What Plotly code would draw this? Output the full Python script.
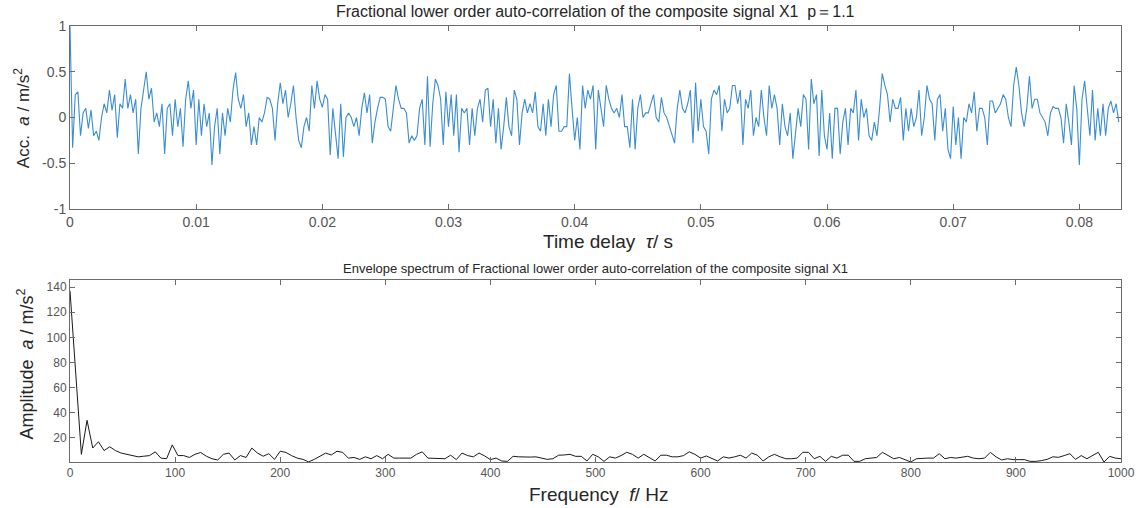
import numpy as np
import plotly.graph_objects as go
from plotly.subplots import make_subplots

# ---- auto-correlation of X1 (p = 1.1), sampled every 1/4800 s ----
fs_corr = 4800.0
acc_0 = [1.0, -0.33, 0.25, 0.28, -0.2, 0.05, 0.1, -0.12, 0.08, -0.2,
         -0.15, -0.25, 0.0, 0.15, 0.05, 0.3, 0.08, 0.25, -0.22, 0.15,
         0.1, 0.42, 0.1, 0.25, 0.05, 0.2, -0.4, 0.1, 0.3, 0.5,
         0.2, 0.32, -0.05, 0.05, -0.1, 0.15, -0.4, 0.1, 0.15, -0.2,
         0.2, -0.1, 0.1, -0.32, 0.2, 0.4, 0.1, 0.3]
acc_1 = [-0.3, 0.2, -0.2, 0.15, -0.1, 0.05, -0.52, -0.1, 0.1, -0.4,
         0.05, -0.2, 0.1, -0.05, 0.3, 0.49, 0.2, 0.1, 0.25, -0.1,
         0.05, -0.3, -0.1, -0.3, 0.0, -0.05, 0.05, 0.22, 0.2, 0.1,
         -0.25, 0.15, 0.38, 0.15, 0.3, 0.0, 0.15, 0.35, 0.0, -0.25,
         -0.33, -0.1, 0.0, -0.15, 0.35, 0.1, 0.4, 0.2]
acc_2 = [0.11, 0.25, 0.2, -0.41, 0.1, -0.2, -0.45, 0.15, -0.43, 0.0,
         0.05, 0.0, -0.1, 0.0, -0.2, 0.1, 0.27, 0.05, 0.25, -0.28,
         -0.05, 0.1, 0.22, 0.22, 0.2, -0.1, -0.15, 0.1, 0.35, 0.2,
         0.1, 0.1, 0.05, -0.28, -0.2, -0.25, -0.2, 0.1, 0.2, -0.3,
         0.45, -0.32, 0.15, 0.42, 0.35, 0.2, -0.3, 0.28]
acc_3 = [-0.1, 0.25, -0.2, 0.25, -0.38, 0.1, 0.05, 0.1, -0.3, 0.1,
         -0.2, 0.1, 0.2, -0.05, 0.3, 0.32, -0.1, 0.2, -0.28, 0.1,
         -0.35, -0.1, 0.22, -0.1, -0.2, 0.3, 0.2, -0.3, 0.05, 0.2,
         0.05, 0.15, 0.05, 0.28, -0.1, -0.15, 0.15, -0.2, 0.2, -0.1,
         0.25, 0.35, -0.15, -0.15, -0.1, -0.1, 0.48, 0.1]
acc_4 = [-0.25, 0.0, -0.35, 0.35, 0.1, 0.3, 0.2, 0.35, -0.35, 0.3,
         0.1, -0.1, 0.35, 0.2, 0.1, 0.05, 0.1, 0.0, 0.25, -0.1,
         -0.1, -0.33, 0.2, -0.35, 0.1, 0.25, 0.0, 0.05, 0.05, 0.15,
         0.25, 0.0, -0.05, 0.22, 0.05, 0.0, -0.1, -0.2, -0.28, 0.1,
         0.3, 0.1, 0.05, 0.15, 0.3, -0.28, 0.38, -0.15]
acc_5 = [0.2, -0.1, -0.15, -0.4, 0.2, 0.3, 0.25, 0.35, -0.15, 0.2,
         0.05, 0.1, 0.35, 0.35, 0.15, 0.3, -0.3, 0.2, 0.1, 0.3,
         -0.2, 0.0, -0.1, 0.3, 0.0, -0.2, 0.35, 0.1, 0.25, 0.1,
         -0.3, 0.15, -0.1, -0.2, 0.05, -0.45, -0.2, 0.1, -0.1, 0.25,
         0.2, -0.35, 0.42, 0.15, 0.25, -0.42, 0.3, -0.2]
acc_6 = [-0.35, 0.05, -0.45, 0.1, 0.1, -0.4, -0.05, 0.1, -0.3, 0.1,
         0.05, 0.3, -0.25, 0.2, 0.0, 0.1, -0.2, -0.25, -0.05, -0.2,
         0.1, 0.48, 0.35, 0.25, -0.05, 0.2, 0.1, 0.1, 0.22, -0.25,
         0.1, -0.15, 0.1, -0.1, 0.0, 0.3, -0.2, 0.0, 0.35, 0.2,
         0.15, -0.25, 0.2, 0.25, -0.15, 0.1, -0.35, -0.45]
acc_7 = [0.12, -0.3, 0.0, -0.45, 0.0, -0.05, 0.15, 0.05, 0.28, -0.15,
         0.1, 0.1, 0.0, -0.3, 0.18, 0.18, 0.05, 0.1, 0.15, 0.25,
         0.2, 0.0, -0.1, 0.35, 0.55, 0.35, 0.05, -0.1, 0.1, 0.45,
         0.1, 0.2, 0.2, 0.05, 0.0, -0.05, -0.2, 0.05, 0.12, 0.1,
         0.1, 0.0, -0.28, 0.15, -0.05, -0.3, 0.35, 0.1]
acc_8 = [-0.52, 0.2, 0.4, 0.1, -0.2, 0.3, -0.25, 0.1, -0.2, 0.15,
         -0.2, 0.1, 0.18, 0.05, 0.15, -0.05]

# ---- envelope spectrum of the auto-correlation, 0 - 1000 Hz ----
amp = [137, 75, 7, 34, 12, 17, 10, 13, 10, 8,
       7, 6.5, 5, 5.5, 6, 9, 4, 3.5, 14.5, 6,
       6, 4.5, 7, 8.5, 5.5, 3.5, 2.5, 7, 8, 2.5,
       6, 4.5, 12, 8, 5.5, 7.5, 3, 9.5, 8.5, 6,
       4, 3, 1, 3, 5.5, 8, 6.5, 9.5, 8.5, 4,
       4.5, 3, 5, 3.5, 6, 3.5, 7, 4, 4, 4,
       4, 7, 9, 4, 4, 3.5, 3.5, 6.3, 2.8, 8,
       6, 5, 8, 5.7, 2.8, 4, 1.7, 1.4, 5.4, 5,
       4.6, 4.8, 5, 4, 3, 3.5, 6.3, 6.5, 7, 5.4,
       5.4, 1.7, 7, 5, 1.4, 5, 4, 6, 8.6, 7,
       4, 7, 4, 1.7, 6.3, 6.3, 5, 5, 6, 9,
       7, 4, 5.7, 3.5, 1.7, 5, 4, 5, 6.3, 4,
       8, 6.3, 1.7, 5, 7, 5, 3.5, 3.5, 4, 8.6,
       8.6, 3.5, 5.4, 1.4, 5.4, 4, 6.3, 6.3, 1.4, 1.4,
       3.5, 4, 4.5, 8.6, 6, 3.5, 4.5, 3, 0.9, 3.5,
       4, 4, 4, 7.5, 3.5, 4.5, 4, 5, 5.4, 4,
       3.5, 4, 8.6, 5, 2.5, 3.5, 2.8, 2.8, 2.8, 1.4,
       1.4, 2, 3, 5, 4.6, 6, 7.5, 3, 6, 3.5,
       6.3, 8.6, 0.9, 5.4, 4, 3.5]

acc = np.array(acc_0 + acc_1 + acc_2 + acc_3 + acc_4 + acc_5 + acc_6 + acc_7 + acc_8)
tau = np.arange(len(acc)) / fs_corr
freq = np.linspace(0, 1000, len(amp))

FONT = "Arial, Liberation Sans, Helvetica, sans-serif"
AXIS_GREY = "#6b6b6b"
TEXT_GREY = "#555555"
TITLE_COL = "#262626"

fig = make_subplots(rows=2, cols=1, vertical_spacing=0.0)

fig.add_trace(go.Scatter(x=tau, y=acc, mode="lines",
                         line=dict(color="#3a8dd4", width=1.1),
                         showlegend=False), row=1, col=1)
fig.add_trace(go.Scatter(x=freq, y=amp, mode="lines",
                         line=dict(color="#1a1a1a", width=1),
                         showlegend=False), row=2, col=1)

axis_common = dict(showline=True, linecolor=AXIS_GREY, linewidth=1, mirror="ticks",
                   ticks="inside", ticklen=5, tickcolor=AXIS_GREY, showgrid=False,
                   zeroline=False)

fig.update_xaxes(range=[0, 0.0833], tickvals=[0, 0.01, 0.02, 0.03, 0.04, 0.05, 0.06, 0.07, 0.08],
                 ticktext=["0", "0.01", "0.02", "0.03", "0.04", "0.05", "0.06", "0.07", "0.08"],
                 tickfont=dict(family=FONT, size=14, color=TEXT_GREY),
                 domain=[0, 1], row=1, col=1, **axis_common)
fig.update_yaxes(range=[-1, 1], tickvals=[-1, -0.5, 0, 0.5, 1],
                 ticktext=["-1", "-0.5", "0", "0.5", "1"],
                 tickfont=dict(family=FONT, size=14, color=TEXT_GREY),
                 domain=[0.5803, 1], row=1, col=1, **axis_common)
fig.update_xaxes(range=[0, 1000], tickvals=list(range(0, 1001, 100)),
                 tickfont=dict(family=FONT, size=12, color=TEXT_GREY),
                 domain=[0, 1], row=2, col=1, **axis_common)
fig.update_yaxes(range=[0.9, 145.6], tickvals=[20, 40, 60, 80, 100, 120, 140],
                 tickfont=dict(family=FONT, size=12, color=TEXT_GREY),
                 domain=[0, 0.4174], row=2, col=1, **axis_common)

annotations = [
    dict(text="Fractional lower order auto-correlation of the composite signal X1  p\uff1d1.1",
         xref="x domain", yref="y domain", x=0.5, y=1.077, showarrow=False,
         xanchor="center", yanchor="middle",
         font=dict(family=FONT, size=16, color=TITLE_COL)),
    dict(text="Time delay  <i>\u03c4</i>/ s",
         xref="x domain", yref="y domain", x=0.512, y=-0.18, showarrow=False,
         xanchor="center", yanchor="middle",
         font=dict(family=FONT, size=19, color=TITLE_COL)),
    dict(text="Acc.  <i>a</i> / m/s<sup>2</sup>",
         xref="x domain", yref="y domain", x=-0.045, y=0.5, showarrow=False,
         xanchor="center", yanchor="middle", textangle=-90,
         font=dict(family=FONT, size=17, color=TITLE_COL)),
    dict(text="Envelope spectrum of Fractional lower order auto-correlation of the composite signal X1",
         xref="x2 domain", yref="y2 domain", x=0.5, y=1.066, showarrow=False,
         xanchor="center", yanchor="middle",
         font=dict(family=FONT, size=13, color=TITLE_COL)),
    dict(text="Frequency  <i>f</i>/ Hz",
         xref="x2 domain", yref="y2 domain", x=0.503, y=-0.176, showarrow=False,
         xanchor="center", yanchor="middle",
         font=dict(family=FONT, size=19, color=TITLE_COL)),
    dict(text="Amplitude  <i>a</i> / m/s<sup>2</sup>",
         xref="x2 domain", yref="y2 domain", x=-0.042, y=0.54, showarrow=False,
         xanchor="center", yanchor="middle", textangle=-90,
         font=dict(family=FONT, size=18, color=TITLE_COL)),
]

fig.update_layout(width=1147, height=508,
                  margin=dict(l=70, r=20, t=26, b=46),
                  paper_bgcolor="white", plot_bgcolor="white",
                  annotations=annotations, showlegend=False)

fig.write_html("out.html")
